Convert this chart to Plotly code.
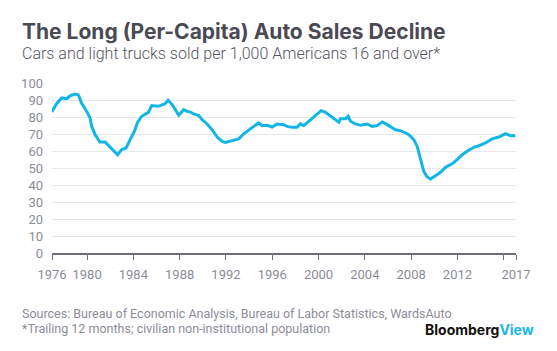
import plotly.graph_objects as go

# Data: (decimal year, cars & light trucks per 1,000 Americans 16+)
years = [1976.95, 1977.37, 1977.8, 1978.24, 1978.53, 1978.96, 1979.25, 1979.53, 1979.97,
         1980.26, 1980.4, 1980.69, 1981.12, 1981.56, 1981.84, 1982.27, 1982.64, 1982.99,
         1983.37, 1983.72, 1984.09, 1984.37, 1984.72, 1985.3, 1985.58, 1986.16, 1986.74,
         1987.0, 1987.35, 1987.63, 1987.92, 1988.35, 1988.64, 1988.93, 1989.21, 1989.65,
         1989.94, 1990.37, 1990.8, 1991.24, 1991.67, 1991.95, 1992.53, 1993.1, 1993.53,
         1993.97, 1994.4, 1994.83, 1995.13, 1995.56, 1995.99, 1996.42, 1996.99, 1997.29,
         1997.72, 1998.15, 1998.44, 1998.72, 1999.15, 1999.59, 2000.02, 2000.22, 2000.6,
         2001.03, 2001.46, 2001.75, 2001.89, 2002.33, 2002.56, 2002.76, 2003.19, 2003.62,
         2004.2, 2004.63, 2005.06, 2005.5, 2005.93, 2006.36, 2006.65, 2007.08, 2007.22,
         2007.8, 2008.23, 2008.52, 2008.81, 2009.09, 2009.39, 2009.67, 2010.1, 2010.54,
         2010.97, 2011.55, 2011.98, 2012.41, 2012.84, 2013.41, 2013.85, 2014.42, 2014.99,
         2015.57, 2016.15, 2016.58, 2017.0]
values = [83.0, 87.8, 91.2, 90.8, 92.5, 93.5, 93.0, 88.0, 83.3,
          79.4, 74.5, 69.6, 65.3, 65.3, 63.3, 60.2, 57.8, 60.8,
          61.8, 66.7, 71.6, 76.9, 80.4, 82.7, 86.7, 86.3, 87.8,
          89.8, 87.3, 84.3, 81.0, 84.3, 83.3, 82.9, 81.8, 80.8,
          78.4, 75.9, 72.5, 68.2, 65.7, 65.1, 66.1, 67.1, 70.0,
          72.5, 74.5, 76.5, 74.9, 75.1, 74.1, 75.9, 75.5, 74.5,
          73.9, 73.9, 76.1, 74.9, 77.5, 79.8, 82.9, 83.7, 82.7,
          80.4, 78.4, 76.9, 79.0, 79.0, 80.4, 77.5, 75.9, 75.1,
          75.9, 74.5, 74.9, 77.1, 75.5, 73.9, 72.5, 71.9, 71.6,
          69.6, 66.7, 62.7, 55.9, 48.0, 44.7, 43.5, 45.5, 47.5,
          50.4, 52.5, 54.9, 57.8, 59.8, 62.2, 63.1, 64.7, 67.1,
          68.2, 70.2, 69.0, 69.0]

tick_vals = [1976.97, 1980, 1984, 1988, 1992, 1996, 2000, 2004, 2008, 2012, 2016, 2017.06]
tick_text = ["1976", "1980", "1984", "1988", "1992", "1996", "2000", "2004", "2008", "2012", "", "2017"]
y_ticks = [0, 10, 20, 30, 40, 50, 60, 70, 80, 90, 100]

W, H = 557, 351
L, R, T, B = 52, 41, 83, 98
PW, PH = W - L - R, H - T - B

def px(x):
    return (x - L) / PW

def py(y):
    return 1 - (y - T) / PH

fig = go.Figure()
fig.add_trace(go.Scatter(x=years, y=values, mode="lines",
                         line=dict(color="#12b6e6", width=3), hoverinfo="skip"))

GRAY = "#8c8c98"
fig.update_layout(
    width=W, height=H, margin=dict(l=L, r=R, t=T, b=B),
    paper_bgcolor="white", plot_bgcolor="white", showlegend=False,
    font=dict(family="Roboto, Arial, sans-serif", color=GRAY, size=13),
    xaxis=dict(range=[1976.97, 2017.06], tickvals=tick_vals, ticktext=tick_text,
               showgrid=False, zeroline=False, showline=True, linecolor="#6e6e78",
               linewidth=1.5, ticks="outside", ticklen=5, tickwidth=1.2,
               tickcolor="#6e6e78", tickfont=dict(size=13, color=GRAY),
               ticklabelstandoff=4),
    yaxis=dict(range=[0, 100], tickvals=y_ticks, showgrid=True, gridcolor="#e8e8e8",
               gridwidth=1, zeroline=False, showline=False, ticks="",
               tickfont=dict(size=13, color=GRAY), ticklabelstandoff=8),
)

ann = [
    dict(text="<b>The Long (Per-Capita) Auto Sales Decline</b>", x=px(20), y=py(32),
         font=dict(size=21, color="#4a4a55", family="Inter, Roboto, sans-serif")),
    dict(text="Cars and light trucks sold per 1,000 Americans 16 and over*", x=px(20), y=py(54),
         font=dict(size=16, color="#555560", family="Roboto, sans-serif", weight=300)),
    dict(text="Sources: Bureau of Economic Analysis, Bureau of Labor Statistics, WardsAuto",
         x=px(20), y=py(313), font=dict(size=12.5, color=GRAY)),
    dict(text="*Trailing 12 months; civilian non-institutional population",
         x=px(20), y=py(328), font=dict(size=12.5, color=GRAY)),
    dict(text="<b><span style='color:#111'>Bloomberg</span><span style='color:#1ab7ea'>View</span></b>",
         x=px(536), y=py(329), xanchor="right",
         font=dict(size=14, family="Inter, Roboto, sans-serif")),
]
for a in ann:
    a.setdefault("xanchor", "left")
    fig.add_annotation(xref="paper", yref="paper", yanchor="middle", showarrow=False, **a)

fig.write_html("out.html")
